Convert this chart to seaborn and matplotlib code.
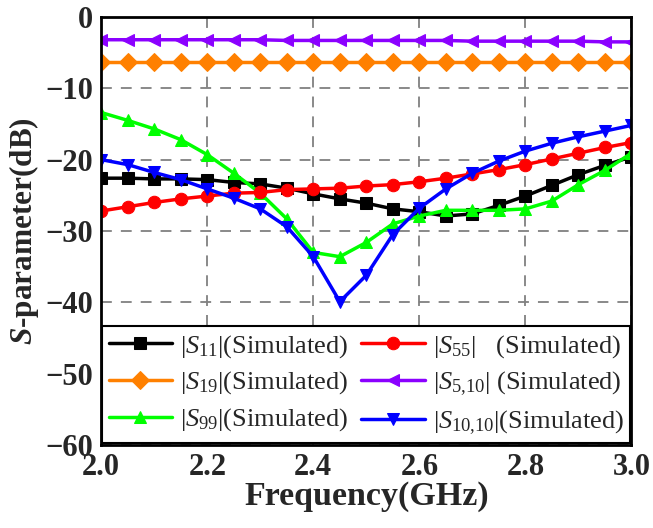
import numpy as np
import pandas as pd
import seaborn as sns
import matplotlib.pyplot as plt

# frequency points (GHz), one marker every 0.05
freq = [2.00, 2.05, 2.10, 2.15, 2.20, 2.25, 2.30, 2.35, 2.40, 2.45, 2.50,
        2.55, 2.60, 2.65, 2.70, 2.75, 2.80, 2.85, 2.90, 2.95, 3.00]

s11 = [-22.6, -22.6, -22.7, -22.7, -22.8, -23.2, -23.4, -24.0, -24.8, -25.5, -26.1,
       -26.9, -27.3, -27.9, -27.6, -26.4, -25.1, -23.6, -22.1, -20.8, -19.6]
s19 = [-6.3, -6.3, -6.3, -6.3, -6.3, -6.3, -6.3, -6.3, -6.3, -6.3, -6.3,
       -6.3, -6.3, -6.3, -6.3, -6.3, -6.3, -6.3, -6.3, -6.3, -6.3]
s99 = [-13.4, -14.5, -15.7, -17.2, -19.3, -21.9, -24.7, -28.3, -33.0, -33.6, -31.6,
       -29.0, -27.9, -27.1, -27.1, -27.1, -26.9, -25.8, -23.5, -21.5, -19.1]
s55 = [-27.2, -26.6, -26.0, -25.5, -25.1, -24.7, -24.6, -24.2, -24.1, -24.0, -23.7,
       -23.5, -23.1, -22.6, -22.0, -21.4, -20.7, -19.9, -19.1, -18.3, -17.6]
s510 = [-3.2, -3.2, -3.2, -3.2, -3.2, -3.2, -3.2, -3.3, -3.3, -3.3, -3.3,
        -3.3, -3.3, -3.3, -3.4, -3.4, -3.4, -3.4, -3.4, -3.5, -3.5]
s1010 = [-20.0, -20.7, -21.8, -22.8, -24.1, -25.4, -26.9, -29.4, -33.6, -39.9, -36.2,
         -30.5, -26.8, -24.1, -21.9, -20.2, -18.8, -17.7, -16.8, -16.0, -15.2]

labels = [r'$|S_{11}|$(Simulated)', r'$|S_{19}|$(Simulated)', r'$|S_{99}|$(Simulated)',
          r'$|S_{55}|$   (Simulated)', r'$|S_{5{,}10}|$ (Simulated)', r'$|S_{10{,}10}|$(Simulated)']
series = [s11, s19, s99, s55, s510, s1010]
colors = ['black', '#FF8000', '#00FF00', '#FF0000', '#8B00FF', '#0000FF']
markers = ['s', 'D', '^', 'o', '<', 'v']

sns.set_style('white')
plt.rcParams['font.family'] = ['Liberation Serif', 'DejaVu Serif']
plt.rcParams['mathtext.fontset'] = 'custom'
plt.rcParams['mathtext.rm'] = 'Liberation Serif'
plt.rcParams['mathtext.it'] = 'Liberation Serif:italic'
plt.rcParams['mathtext.bf'] = 'Liberation Serif:bold'
plt.rcParams['mathtext.bfit'] = 'Liberation Serif:italic:bold'

fig = plt.figure(figsize=(6.53, 5.28), dpi=100)
ax = fig.add_axes([0.155, 0.157, 0.812, 0.811])

for vals, lab, c, m in zip(series, labels, colors, markers):
    sns.lineplot(x=freq, y=vals, ax=ax, color=c, marker=m, markersize=9,
                 markeredgecolor=c, linewidth=2.5, label=lab)

ax.set_xlim(2.0, 3.0)
ax.set_ylim(-60, 0)
ax.set_xticks([2.0, 2.2, 2.4, 2.6, 2.8, 3.0])
ax.set_yticks([0, -10, -20, -30, -40, -50, -60])
ax.grid(True, color='gray', linestyle=(0, (6, 5)), linewidth=1.3)
ax.tick_params(direction='in', length=5, width=1.8, labelsize=22)
ax.tick_params(axis='y', pad=6)
ax.tick_params(axis='x', pad=6)
for lab in ax.get_xticklabels() + ax.get_yticklabels():
    lab.set_fontweight('bold')
for sp in ax.spines.values():
    sp.set_linewidth(2)
    sp.set_color('black')

ax.set_xlabel('Frequency(GHz)', fontsize=24.5, fontweight='bold', labelpad=-1)
ax.set_ylabel(r'$\mathbfit{S}$-parameter(dB)', fontsize=22.5, fontweight='bold', labelpad=3)

leg = ax.legend(loc='lower center', ncol=2, fontsize=19, frameon=True, fancybox=False,
                edgecolor='black', framealpha=1, handlelength=2.4, columnspacing=0.5,
                handletextpad=0.3, borderpad=0.25, labelspacing=0.38,
                borderaxespad=0.0, bbox_to_anchor=(0.5, 0.004))
leg.get_frame().set_linewidth(1.5)

fig.savefig('out.png', dpi=100)
